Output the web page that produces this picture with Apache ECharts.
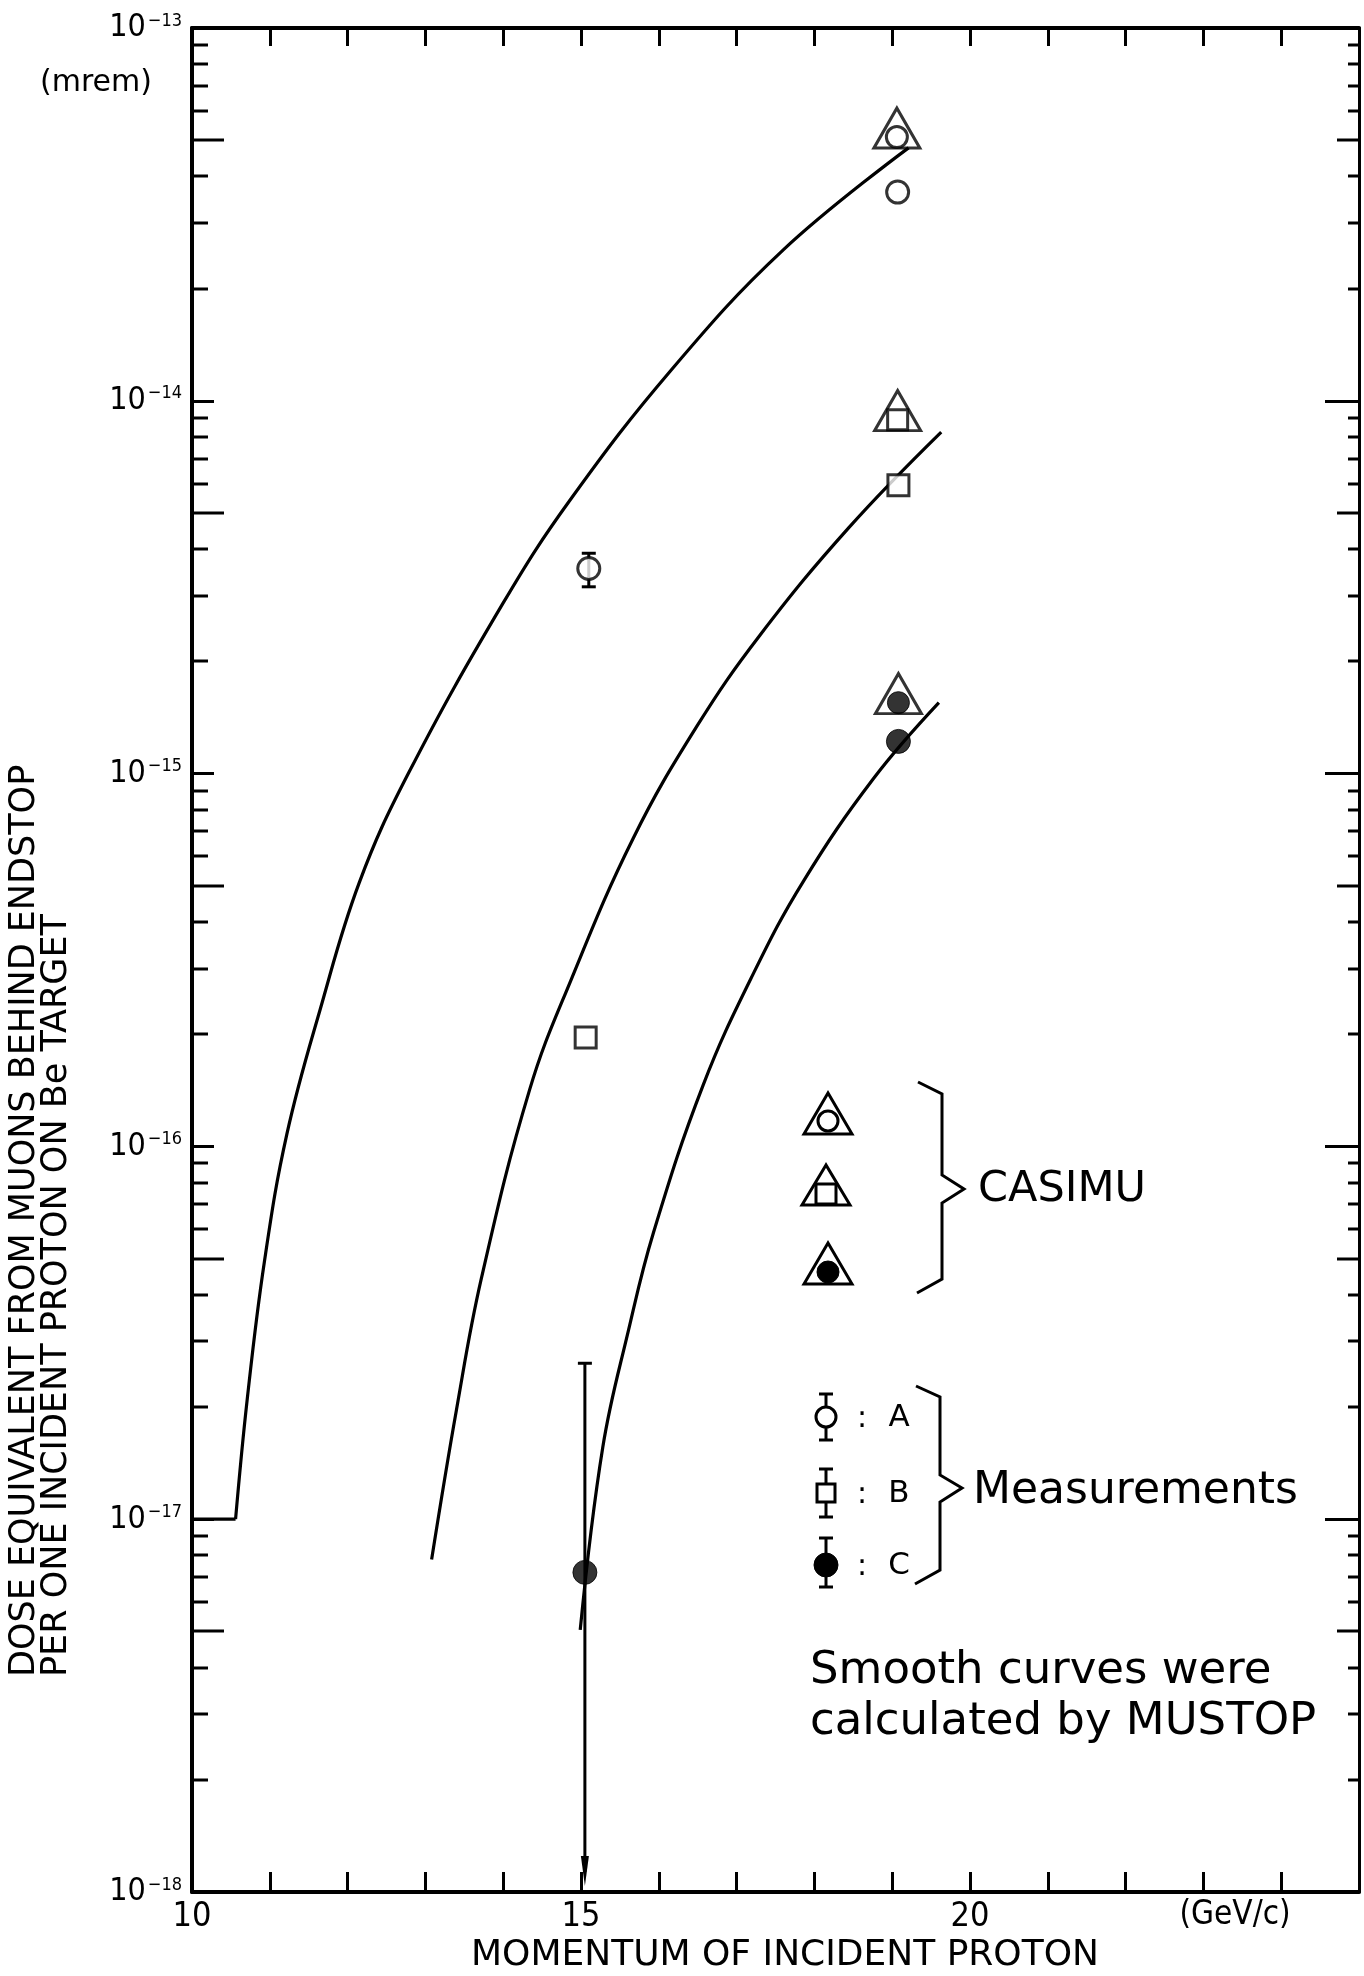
<!DOCTYPE html>
<html><head><meta charset="utf-8">
<script src="https://cdn.jsdelivr.net/npm/echarts@6/dist/echarts.min.js"></script>
<style>html,body{margin:0;padding:0;background:#fff}#c{width:1364px;height:1976px}</style>
</head><body><div id="c"></div>
<script>
// ---------------- data ----------------
const xTickLabels = [10, 15, 20];
const yDecadeExponents = [-18, -17, -16, -15, -14, -13];
const yMinorMultipliers = [2, 3, 4, 5, 6, 7, 8, 9];

// MUSTOP smooth curves
const curveA_stub_x = [10.0, 10.56];
const curveA_stub_y = [1e-17, 1e-17];
const curveA_x = [10.56, 10.71, 10.93, 11.22, 11.65, 12.15, 12.78, 14.0, 14.86, 16.16, 17.6, 19.21];
const curveA_y = [1.0e-17, 2.1e-17, 4.9e-17, 1.08e-16, 2.34e-16, 5.1e-16, 1.0e-15, 2.87e-15, 5.42e-15, 1.21e-14, 2.54e-14, 4.77e-14];
const curveB_x = [13.08, 13.40, 13.72, 14.34, 14.87, 15.67, 16.49, 17.30, 18.44, 19.63];
const curveB_y = [7.8e-18, 1.97e-17, 4.43e-17, 1.42e-16, 2.79e-16, 6.7e-16, 1.34e-15, 2.35e-15, 4.56e-15, 8.24e-15];
const curveC_x = [14.99, 15.28, 15.61, 15.93, 16.57, 17.22, 17.86, 18.76, 19.60];
const curveC_y = [5.05e-18, 1.56e-17, 3.21e-17, 5.86e-17, 1.46e-16, 2.92e-16, 5.15e-16, 9.7e-16, 1.55e-15];

// Measurements
const measA_x = [15.1, 19.07];
const measA_y = [3.55e-15, 3.63e-14];
const measB_x = [15.06, 19.08];
const measB_y = [1.96e-16, 5.94e-15];
const measC_x = [15.05, 19.08];
const measC_y = [7.2e-18, 1.22e-15];
// error bar (A at 15 GeV/c)
const errA_x = [15.1];
const errA_lo = [3.17e-15];
const errA_hi = [3.9e-15];
// upper-limit arrow (C at 15 GeV/c)
const limC_x = [15.05];
const limC_hi = [2.62e-17];
const limC_to = [1e-18];

// CASIMU
const casimu_x = [19.06, 19.07, 19.08];
const casimuA_y = [5.1e-14];
const casimuB_y = [8.9e-15];
const casimuC_y = [1.55e-15];

// ---------------- helpers ----------------
const X_MIN = 10, X_MAX = 25;
const FONT = "'DejaVu Sans', 'Noto Sans', sans-serif";
const COND = "'DejaVu Sans Condensed', 'Liberation Sans Narrow', 'DejaVu Sans', sans-serif";
const lg = v => Math.log10(v);
const pts = (xs, ys) => xs.map((x, i) => [x, lg(ys[i])]);

const curveStyle = { color: '#000', width: 3.2 };
function curve(xs, ys, smooth) {
  return { type: 'line', data: pts(xs, ys), showSymbol: false, symbol: 'none', smooth: smooth,
    lineStyle: curveStyle, silent: true, z: 3 };
}
const openStyle = { color: '#fff', borderColor: '#000', borderWidth: 3 };
const filledStyle = { color: '#000', borderColor: '#000', borderWidth: 1 };

const chart = echarts.init(document.getElementById('c'), null, { renderer: 'canvas' });

const axisLineStyle = { color: '#000', width: 4 };
const tickStyle = { color: '#000', width: 3 };
const CENTER = { align: 'center', verticalAlign: 'middle', textAlign: 'center', textVerticalAlign: 'middle' };
const LEFT = { align: 'left', verticalAlign: 'middle', textAlign: 'left', textVerticalAlign: 'middle' };
function txt(x, y, text, size, family, anchor, extra) {
  return Object.assign({ type: 'text', x: x, y: y,
    style: Object.assign({ text: text, font: size + 'px ' + family, fill: '#000' }, anchor) }, extra || {});
}
const stroke3 = { fill: 'none', stroke: '#000', lineWidth: 3 };

// one data item per (decade, multiplier) minor tick
const minorTickItems = [];
yDecadeExponents.slice(0, -1).forEach(e => yMinorMultipliers.forEach(m => minorTickItems.push([X_MIN, e + Math.log10(m), m])));

const option = {
  animation: false,
  backgroundColor: '#fff',
  grid: { left: 192, right: 5, top: 28, bottom: 84, containLabel: false },
  xAxis: [
    { type: 'value', min: X_MIN, max: X_MAX, interval: 5, position: 'bottom',
      axisLine: { show: true, onZero: false, lineStyle: axisLineStyle },
      axisTick: { show: true, inside: true, length: 20, lineStyle: tickStyle },
      minorTick: { show: true, splitNumber: 5, length: 20, lineStyle: tickStyle },
      splitLine: { show: false },
      axisLabel: { margin: 8, fontSize: 34, fontFamily: COND, color: '#000',
        formatter: v => xTickLabels.includes(v) ? String(v) : '' } },
    { type: 'value', min: X_MIN, max: X_MAX, interval: 5, position: 'top',
      axisLine: { show: true, onZero: false, lineStyle: axisLineStyle },
      axisTick: { show: true, inside: true, length: 18, lineStyle: tickStyle },
      minorTick: { show: true, splitNumber: 5, length: 18, lineStyle: tickStyle },
      splitLine: { show: false }, axisLabel: { show: false } }
  ],
  yAxis: [
    { type: 'value', min: -18, max: -13, interval: 1, position: 'left',
      axisLine: { show: true, onZero: false, lineStyle: axisLineStyle },
      axisTick: { show: true, inside: true, length: 22, lineStyle: tickStyle },
      splitLine: { show: false },
      axisLabel: { margin: 10, color: '#000',
        formatter: v => '{b|10}{s|\u2212' + Math.abs(v) + '}',
        rich: {
          b: { fontSize: 32, fontFamily: COND, color: '#000', lineHeight: 32, verticalAlign: 'bottom' },
          s: { fontSize: 18, fontFamily: COND, color: '#000', lineHeight: 18, verticalAlign: 'top', padding: [0, 0, 0, 2] }
        } } },
    { type: 'value', min: -18, max: -13, interval: 1, position: 'right',
      axisLine: { show: true, onZero: false, lineStyle: { color: '#000', width: 3 } },
      axisTick: { show: true, inside: true, length: 34, lineStyle: tickStyle },
      splitLine: { show: false }, axisLabel: { show: false } }
  ],
  series: [
    // minor log ticks (2..9 of each decade) on left and right frame, drawn as thin filled rects
    { type: 'custom', silent: true, clip: false, z: 5, data: minorTickItems,
      renderItem(params, api) {
        const y = api.value(1), m = api.value(2);
        const pL = api.coord([X_MIN, y]);
        const pR = api.coord([X_MAX, y]);
        const lenL = m === 5 ? 32 : 16, lenR = m === 5 ? 22 : 11;
        return { type: 'group', children: [
          { type: 'rect', shape: { x: pL[0], y: Math.round(pL[1]) - 1.5, width: lenL, height: 3 }, style: { fill: '#000' } },
          { type: 'rect', shape: { x: pR[0] - lenR, y: Math.round(pR[1]) - 1.5, width: lenR, height: 3 }, style: { fill: '#000' } }
        ] };
      } },
    // curves
    curve(curveA_stub_x, curveA_stub_y, false),
    curve(curveA_x, curveA_y, 0.4),
    curve(curveB_x, curveB_y, 0.4),
    curve(curveC_x, curveC_y, 0.4),
    // error bar A
    { type: 'custom', silent: true, clip: false, z: 4,
      data: errA_x.map((x, i) => [x, lg(errA_lo[i]), lg(errA_hi[i])]),
      renderItem(params, api) {
        const lo = api.coord([api.value(0), api.value(1)]);
        const hi = api.coord([api.value(0), api.value(2)]);
        const w = 7, st = { stroke: '#000', lineWidth: 3 };
        return { type: 'group', children: [
          { type: 'line', shape: { x1: lo[0], y1: lo[1], x2: hi[0], y2: hi[1] }, style: st },
          { type: 'line', shape: { x1: lo[0] - w, y1: lo[1], x2: lo[0] + w, y2: lo[1] }, style: st },
          { type: 'line', shape: { x1: hi[0] - w, y1: hi[1], x2: hi[0] + w, y2: hi[1] }, style: st }
        ] };
      } },
    // upper limit arrow C
    { type: 'custom', silent: true, clip: false, z: 4,
      data: limC_x.map((x, i) => [x, lg(limC_hi[i]), lg(limC_to[i])]),
      renderItem(params, api) {
        const hi = api.coord([api.value(0), api.value(1)]);
        const to = api.coord([api.value(0), api.value(2)]);
        const w = 7, st = { stroke: '#000', lineWidth: 3 };
        return { type: 'group', children: [
          { type: 'line', shape: { x1: hi[0], y1: hi[1], x2: to[0], y2: to[1] - 20 }, style: st },
          { type: 'line', shape: { x1: hi[0] - w, y1: hi[1], x2: hi[0] + w, y2: hi[1] }, style: st },
          { type: 'polygon', shape: { points: [[to[0] - 4, to[1] - 36], [to[0] + 4, to[1] - 36], [to[0], to[1] - 6]] }, style: { fill: '#000' } }
        ] };
      } },
    // CASIMU triangles
    { type: 'scatter', symbol: 'triangle', symbolSize: [46, 40], symbolOffset: [0, -9], z: 6, silent: true,
      itemStyle: { color: 'rgba(255,255,255,0)', borderColor: '#000', borderWidth: 3 },
      data: [[casimu_x[0], lg(casimuA_y[0])], [casimu_x[1], lg(casimuB_y[0])], [casimu_x[2], lg(casimuC_y[0])]] },
    { type: 'scatter', symbol: 'circle', symbolSize: 21, z: 7, silent: true, itemStyle: openStyle,
      data: [[casimu_x[0], lg(casimuA_y[0])]] },
    { type: 'scatter', symbol: 'rect', symbolSize: 20, z: 7, silent: true, itemStyle: openStyle,
      data: [[casimu_x[1], lg(casimuB_y[0])]] },
    { type: 'scatter', symbol: 'circle', symbolSize: 22, z: 7, silent: true, itemStyle: filledStyle,
      data: [[casimu_x[2], lg(casimuC_y[0])]] },
    // measurements
    { type: 'scatter', symbol: 'circle', symbolSize: 22, z: 7, silent: true, itemStyle: openStyle, data: pts(measA_x, measA_y) },
    { type: 'scatter', symbol: 'rect', symbolSize: 21, z: 7, silent: true, itemStyle: openStyle, data: pts(measB_x, measB_y) },
    { type: 'scatter', symbol: 'circle', symbolSize: 24, z: 7, silent: true, itemStyle: filledStyle, data: pts(measC_x, measC_y) }
  ],
  graphic: { elements: [
    // axis titles
    txt(785, 1956, 'MOMENTUM OF INCIDENT PROTON', 36, FONT, CENTER),
    txt(1235, 1915, '(GeV/c)', 33, COND, CENTER),
    txt(96, 83, '(mrem)', 30, FONT, CENTER),
    txt(25, 1677, 'DOSE EQUIVALENT FROM MUONS BEHIND ENDSTOP', 35, FONT, LEFT, { rotation: Math.PI / 2 }),
    txt(57, 1677, 'PER ONE INCIDENT PROTON ON Be TARGET', 35, FONT, LEFT, { rotation: Math.PI / 2 }),
    // CASIMU legend
    { type: 'polygon', shape: { points: [[828, 1093], [804, 1134], [852, 1134]] }, style: stroke3 },
    { type: 'circle', shape: { cx: 828, cy: 1121, r: 10 }, style: { fill: '#fff', stroke: '#000', lineWidth: 3 } },
    { type: 'polygon', shape: { points: [[826, 1165], [802, 1205], [850, 1205]] }, style: stroke3 },
    { type: 'rect', shape: { x: 816, y: 1184, width: 20, height: 20 }, style: { fill: '#fff', stroke: '#000', lineWidth: 3 } },
    { type: 'polygon', shape: { points: [[828, 1243], [804, 1284], [852, 1284]] }, style: stroke3 },
    { type: 'circle', shape: { cx: 828, cy: 1272, r: 11 }, style: { fill: '#000', stroke: '#000', lineWidth: 1 } },
    { type: 'polyline', shape: { points: [[918, 1082], [942, 1094], [942, 1175], [964, 1189], [942, 1203], [942, 1279], [917, 1293]] }, style: stroke3 },
    txt(978, 1190, 'CASIMU', 43, FONT, LEFT),
    // Measurements legend
    { type: 'line', shape: { x1: 826, y1: 1394, x2: 826, y2: 1440 }, style: stroke3 },
    { type: 'line', shape: { x1: 819, y1: 1394, x2: 833, y2: 1394 }, style: stroke3 },
    { type: 'line', shape: { x1: 819, y1: 1440, x2: 833, y2: 1440 }, style: stroke3 },
    { type: 'circle', shape: { cx: 826, cy: 1417, r: 10 }, style: { fill: '#fff', stroke: '#000', lineWidth: 3 } },
    { type: 'line', shape: { x1: 826, y1: 1469, x2: 826, y2: 1517 }, style: stroke3 },
    { type: 'line', shape: { x1: 819, y1: 1469, x2: 833, y2: 1469 }, style: stroke3 },
    { type: 'line', shape: { x1: 819, y1: 1517, x2: 833, y2: 1517 }, style: stroke3 },
    { type: 'rect', shape: { x: 817, y: 1484, width: 18, height: 18 }, style: { fill: '#fff', stroke: '#000', lineWidth: 3 } },
    { type: 'line', shape: { x1: 826, y1: 1538, x2: 826, y2: 1587 }, style: stroke3 },
    { type: 'line', shape: { x1: 819, y1: 1538, x2: 833, y2: 1538 }, style: stroke3 },
    { type: 'line', shape: { x1: 819, y1: 1587, x2: 833, y2: 1587 }, style: stroke3 },
    { type: 'circle', shape: { cx: 826, cy: 1565, r: 12 }, style: { fill: '#000', stroke: '#000', lineWidth: 1 } },
    txt(862, 1419, ':', 30, FONT, CENTER),
    txt(862, 1495, ':', 30, FONT, CENTER),
    txt(862, 1567, ':', 30, FONT, CENTER),
    txt(899, 1418, 'A', 31, FONT, CENTER),
    txt(899, 1494, 'B', 31, FONT, CENTER),
    txt(899, 1566, 'C', 31, FONT, CENTER),
    { type: 'polyline', shape: { points: [[916, 1386], [940, 1397], [940, 1475], [962, 1488], [940, 1502], [940, 1570], [915, 1584]] }, style: stroke3 },
    txt(973, 1492, 'Measurements', 44, FONT, LEFT),
    // note
    txt(810, 1671, 'Smooth curves were', 45, FONT, LEFT),
    txt(810, 1722, 'calculated by MUSTOP', 45, FONT, LEFT)
  ] }
};
chart.setOption(option);
</script>
</body></html>
